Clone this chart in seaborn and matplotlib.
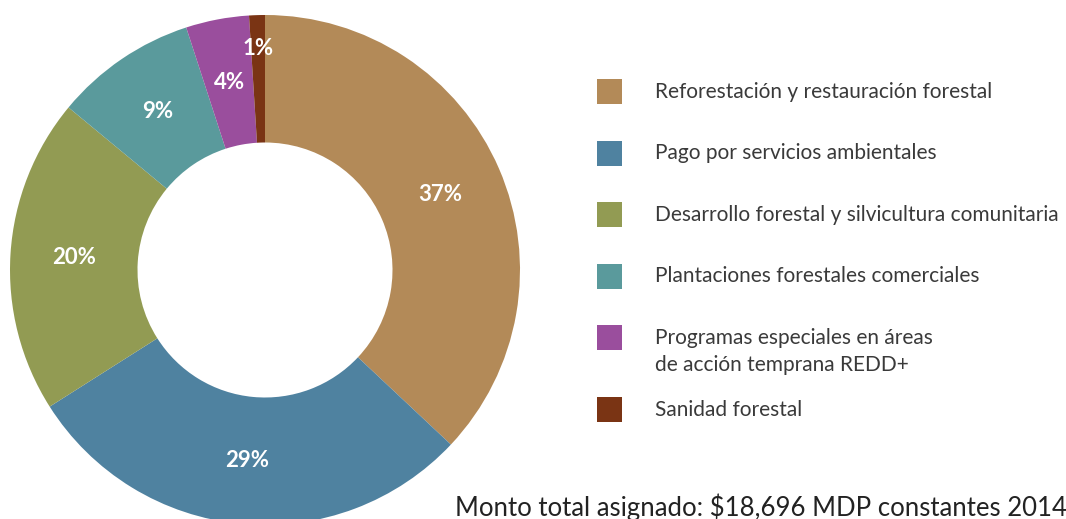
import matplotlib
matplotlib.use("Agg")
import matplotlib.pyplot as plt
from matplotlib.patches import Rectangle
import numpy as np
import seaborn as sns

# Datos del gráfico
categorias = [
    "Reforestación y restauración forestal",
    "Pago por servicios ambientales",
    "Desarrollo forestal y silvicultura comunitaria",
    "Plantaciones forestales comerciales",
    "Programas especiales en áreas\nde acción temprana REDD+",
    "Sanidad forestal",
]
porcentajes = [37, 29, 20, 9, 4, 1]
colores = ["#B38A58", "#4F82A0", "#929B53", "#5A9A9C", "#9A4E9D", "#7A3414"]
nota = "Monto total asignado: $18,696 MDP constantes 2014"

sns.set_theme(style="white")
plt.rcParams["font.family"] = ["Lato", "DejaVu Sans"]

W, H = 1066, 519
fig = plt.figure(figsize=(W / 100, H / 100), dpi=100)
fig.patch.set_facecolor("white")

# Dona: centro (265, 270) px, radio 255 px
cx, cy, R = 265, 270, 255
ax = fig.add_axes([(cx - R) / W, (H - cy - R) / H, 2 * R / W, 2 * R / H])
paleta = sns.color_palette(colores)
wedges, _ = ax.pie(
    porcentajes, colors=paleta, startangle=90, counterclock=False,
    radius=1, wedgeprops=dict(width=0.5, linewidth=0),
)
ax.set_xlim(-1, 1)
ax.set_ylim(-1, 1)
ax.axis("off")

# Etiquetas de porcentaje
for w, p in zip(wedges, porcentajes):
    ang = np.deg2rad((w.theta1 + w.theta2) / 2)
    r = 0.75 if p > 2 else 0.87
    ax.text(r * np.cos(ang), r * np.sin(ang), f"{p}%", ha="center", va="center",
            color="white", fontsize=16, fontweight="bold")

# Leyenda manual
y = 92
for cat, col in zip(categorias, colores):
    fig.add_artist(Rectangle((597 / W, 1 - (y + 12) / H), 25 / W, 25 / H,
                             transform=fig.transFigure, color=col, lw=0))
    lineas = cat.split("\n")
    for k, lin in enumerate(lineas):
        fig.text(655 / W, 1 - (y + 27 * k) / H, lin, ha="left", va="center",
                 fontsize=15, color="#3a3a3a")
    y += 61.5 + (len(lineas) - 1) * 10

fig.text(455 / W, 1 - 507 / H, nota, ha="left", va="center", fontsize=18.5,
         color="#222222")

fig.savefig("out.png", dpi=100)
